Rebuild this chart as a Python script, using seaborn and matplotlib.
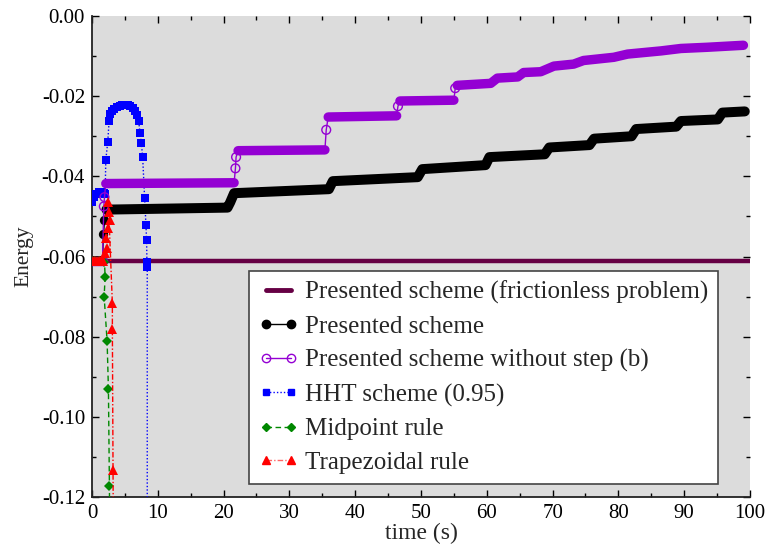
import numpy as np
import pandas as pd
import matplotlib
matplotlib.use("Agg")
import matplotlib.pyplot as plt
import seaborn as sns
from matplotlib.lines import Line2D

# ---------------- data ----------------
fric_t = [0.0, 100.0]
fric_e = [-0.0611, -0.0611]

# Presented scheme: plateau points (nan = break in the dense band)
black_t = [0.0, 1.6, np.nan, 2.2, 20.6, 21.0, 21.6, 36.0, 36.6, 49.5, 50.2, 59.8, 60.4,
           68.8, 69.5, 75.6, 76.3, 82.0, 82.7, 88.8, 89.5, 95.1, 95.8, 99.2]
black_e = [-0.0611, -0.0611, np.nan, -0.0483, -0.0478, -0.0465, -0.0442, -0.0432, -0.0412,
           -0.0402, -0.0382, -0.0372, -0.0352, -0.0345, -0.0328, -0.0322, -0.0306,
           -0.0300, -0.0282, -0.0276, -0.0262, -0.0258, -0.0241, -0.0238]
black_jump_t = [1.75, 1.9]
black_jump_e = [-0.0545, -0.0510]

# Presented scheme without step (b)
purple_t = [0.0, 1.6, np.nan, 2.1, 21.6, np.nan, 22.2, 35.4, np.nan, 35.9, 46.3, np.nan,
            46.8, 55.0, np.nan, 55.5, 60.6, 61.6, 64.7, 65.6, 68.2, 70.2, 73.2, 74.7,
            79.3, 81.4, 86.5, 89.5, 93.5, 99.0]
purple_e = [-0.0611, -0.0611, np.nan, -0.0418, -0.0416, np.nan, -0.0336, -0.0334, np.nan,
            -0.0252, -0.0249, np.nan, -0.0212, -0.0210, np.nan, -0.0173, -0.0168,
            -0.0155, -0.0152, -0.0141, -0.0139, -0.0125, -0.0120, -0.0111, -0.0103,
            -0.0095, -0.0087, -0.0081, -0.0078, -0.0073]
purple_jump_t = [1.8, 1.9, 21.8, 21.9, 35.6, 46.5, 55.2]
purple_jump_e = [-0.0475, -0.0452, -0.0380, -0.0352, -0.0284, -0.0225, -0.0180]

# HHT scheme (0.95)
hht_t = [0.0, 0.3, 0.6, 1.0, 1.4, 1.8, 2.0, 2.1, 2.4, 2.6, 2.8, 3.1, 3.4, 3.8, 4.2, 4.6,
         5.0, 5.4, 5.8, 6.2, 6.6, 6.9, 7.1, 7.3, 7.5, 7.7, 8.0, 8.2, 8.3, 8.35, 8.4, 8.4]
hht_e = [-0.0465, -0.0452, -0.0443, -0.0440, -0.0440, -0.0442, -0.0445, -0.0359, -0.0314,
         -0.0262, -0.0245, -0.0236, -0.0231, -0.0227, -0.0224, -0.0222, -0.0222, -0.0223,
         -0.0225, -0.0229, -0.0236, -0.0246, -0.0262, -0.0293, -0.0317, -0.0351, -0.0454,
         -0.0521, -0.0559, -0.0613, -0.0625, -0.1300]

# Midpoint rule
mid_t = [0.0, 0.5, 1.0, 1.5, 1.9, 2.0, 1.85, 2.3, 2.5, 2.65, 2.7]
mid_e = [-0.0611, -0.0611, -0.0611, -0.0611, -0.0614, -0.0650, -0.0700, -0.0811, -0.0931,
         -0.1173, -0.1300]

# Trapezoidal rule
trap_t = [0.0, 0.25, 0.5, 0.75, 1.0, 1.25, 1.5, 1.75, 1.98, 2.23, 2.13, 2.49, 2.74, 2.64,
          2.49, 3.1, 3.1, 3.2, 3.25]
trap_e = [-0.0611, -0.0611, -0.0611, -0.0611, -0.0611, -0.0611, -0.0611, -0.0611, -0.0592,
          -0.0580, -0.0555, -0.0530, -0.0509, -0.0488, -0.0463, -0.0717, -0.0782, -0.1133,
          -0.1300]

labels = ["Presented scheme (frictionless problem)", "Presented scheme",
          "Presented scheme without step (b)", "HHT scheme (0.95)", "Midpoint rule",
          "Trapezoidal rule"]

# ---------------- style ----------------
sns.set_style("ticks")
plt.rcParams["font.family"] = ["Liberation Serif", "DejaVu Serif"]
plt.rcParams["axes.unicode_minus"] = False

C_FRIC = "#660044"
C_BLACK = "#000000"
C_PURP = "#9400D3"
C_BLUE = "#0000FF"
C_GREEN = "#008800"
C_RED = "#FF0000"


def banded(t, e):
    df = pd.DataFrame({"t": t, "e": e})
    df["seg"] = df["e"].isna().cumsum()
    return df.dropna().reset_index(drop=True)


def thin_path(t, e, jt, je):
    df = pd.DataFrame({"t": list(t) + list(jt), "e": list(e) + list(je)}).dropna()
    return df.sort_values("t", kind="mergesort").reset_index(drop=True)


fig = plt.figure(figsize=(7.69, 5.52), dpi=100)
ax = fig.add_axes([0.1196, 0.0996, 0.8557, 0.8714])
ax.set_facecolor("#DCDCDC")

# frictionless
sns.lineplot(x=fric_t, y=fric_e, ax=ax, color=C_FRIC, lw=3.2, sort=False,
             estimator=None, zorder=2)

# HHT (below dense bands)
sns.lineplot(x=hht_t, y=hht_e, ax=ax, color=C_BLUE, lw=1.0, ls=(0, (1, 1.5)),
             marker="s", markersize=5.5, markeredgewidth=0, sort=False, estimator=None,
             zorder=3)

# Presented scheme
bk = banded(black_t, black_e)
bk_thin = thin_path(black_t, black_e, black_jump_t, black_jump_e)
sns.lineplot(data=bk_thin, x="t", y="e", ax=ax, color=C_BLACK, lw=1.0, sort=False,
             estimator=None, zorder=4)
sns.lineplot(data=bk, x="t", y="e", units="seg", ax=ax, color=C_BLACK, lw=7.2,
             sort=False, estimator=None, solid_capstyle="round",
             solid_joinstyle="round", zorder=4)
sns.scatterplot(x=black_jump_t, y=black_jump_e, ax=ax, color=C_BLACK, s=45,
                marker="o", linewidth=0, zorder=4)

# Presented scheme without step (b)
pp = banded(purple_t, purple_e)
pp_thin = thin_path(purple_t, purple_e, purple_jump_t, purple_jump_e)
sns.lineplot(data=pp_thin, x="t", y="e", ax=ax, color=C_PURP, lw=1.0, sort=False,
             estimator=None, zorder=5)
sns.lineplot(data=pp, x="t", y="e", units="seg", ax=ax, color=C_PURP, lw=6.8,
             sort=False, estimator=None, solid_capstyle="round",
             solid_joinstyle="round", zorder=5)
sns.scatterplot(x=purple_jump_t, y=purple_jump_e, ax=ax, s=40, marker="o",
                facecolor="none", edgecolor=C_PURP, linewidth=1.0, zorder=5)

# Midpoint
sns.lineplot(x=mid_t, y=mid_e, ax=ax, color=C_GREEN, lw=1.0, ls=(0, (4, 2.5)),
             marker="D", markersize=5.5, markeredgewidth=0, sort=False, estimator=None,
             zorder=6)

# Trapezoidal
sns.lineplot(x=trap_t, y=trap_e, ax=ax, color=C_RED, lw=1.0, ls=(0, (4, 1.5, 1, 1.5)),
             marker="^", markersize=7.5, markeredgewidth=0, sort=False, estimator=None,
             zorder=7)

# ---------------- axes ----------------
ax.set_xlim(0, 100)
ax.set_ylim(-0.12, 0.0)
ax.set_xticks(np.arange(0, 101, 10))
ax.set_yticks(np.arange(-0.12, 0.001, 0.02))
ax.set_xticks(np.arange(5, 100, 10), minor=True)
ax.set_yticks(np.arange(-0.11, 0.0, 0.02), minor=True)
ax.set_xticklabels([f"{v:d}" for v in range(0, 101, 10)])
ax.set_yticklabels([f"{v:.2f}" if abs(v) > 1e-9 else "0.00"
                    for v in np.arange(-0.12, 0.001, 0.02)])
ax.tick_params(which="both", direction="in", top=True, right=True, labelsize=15,
               colors="black", width=1.0)
ax.tick_params(which="major", length=5, pad=5)
ax.tick_params(which="minor", length=3)
for s in ["top", "right"]:
    ax.spines[s].set_visible(False)
for s in ["left", "bottom"]:
    ax.spines[s].set_linewidth(1.3)
    ax.spines[s].set_color("#222222")

ax.set_xlabel("time (s)", fontsize=17, labelpad=0)
ax.set_ylabel("Energy", fontsize=15.5, labelpad=6)

handles = [
    Line2D([], [], color=C_FRIC, lw=3.5),
    Line2D([], [], color=C_BLACK, lw=1.0, marker="o", markersize=6),
    Line2D([], [], color=C_PURP, lw=1.0, marker="o", markersize=6,
           markerfacecolor="none", markeredgewidth=1.0),
    Line2D([], [], color=C_BLUE, lw=1.0, ls=(0, (1, 1.5)), marker="s", markersize=4.5),
    Line2D([], [], color=C_GREEN, lw=1.0, ls=(0, (4, 2.5)), marker="D", markersize=4.5),
    Line2D([], [], color="#FF6666", lw=1.0, ls=(0, (4, 1.5, 1, 1.5)), marker="^",
           markersize=5.5, markerfacecolor=C_RED, markeredgecolor=C_RED),
]
leg = ax.legend(handles=handles, labels=labels, loc="lower right",
                bbox_to_anchor=(0.952, 0.027), borderaxespad=0, fontsize=18,
                frameon=True, fancybox=False, framealpha=1, edgecolor="#444444",
                handlelength=1.6, handletextpad=0.25, labelspacing=0.45,
                borderpad=0.4, numpoints=2)
leg.get_frame().set_linewidth(1.2)
leg.set_zorder(10)

fig.savefig("out.png", dpi=100, facecolor="white")
